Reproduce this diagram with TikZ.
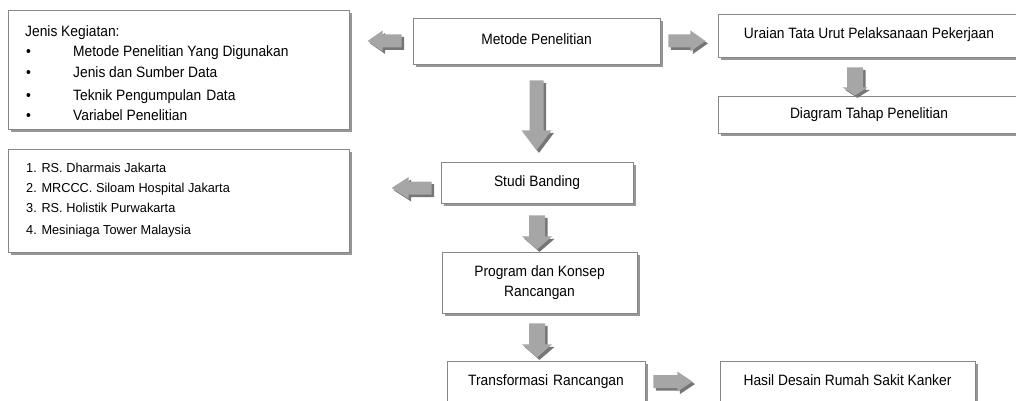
\documentclass[tikz,border=0pt]{standalone}
\usepackage{fontspec}
\setmainfont{Liberation Sans}[FakeStretch=0.92]
\newfontfamily\listfont{Liberation Sans}[FakeStretch=0.98]
\usetikzlibrary{calc,shadows}
\definecolor{boxline}{RGB}{135,135,135}
\definecolor{boxshadow}{RGB}{150,150,150}
\definecolor{arrfillc}{RGB}{166,166,166}
\definecolor{arrshadc}{RGB}{118,118,118}
\tikzset{
  box/.style={draw=boxline, line width=0.8pt, fill=white, inner sep=0pt,
    drop shadow={shadow xshift=3pt, shadow yshift=-3pt, fill=boxshadow, opacity=1},
    font=\fontsize{15}{20}\selectfont, align=center},
  oneline/.style={text height=10pt, text depth=3pt},
  arrfill/.style={fill=arrfillc},
  arrshadow/.style={fill=arrshadc},
  itemtxt/.style={anchor=base west, inner sep=0pt, font=\fontsize{15}{18}\selectfont},
  listtxt/.style={anchor=base west, inner sep=0pt, font=\listfont\fontsize{13}{16}\selectfont},
}
% block arrow outlines: #1 length, #2 half head width, #3 head length, #4 half shaft width
\newcommand\rpoly[4]{++(0,-#4) -- ++(#1-#3,0) -- ++(0,#4-#2) -- ++(#3,#2) -- ++(-#3,#2) -- ++(0,#4-#2) -- ++(#3-#1,0) -- cycle}
\newcommand\lpoly[4]{++(0,-#4) -- ++(#3-#1,0) -- ++(0,#4-#2) -- ++(-#3,#2) -- ++(#3,#2) -- ++(0,#4-#2) -- ++(#1-#3,0) -- cycle}
\newcommand\dpoly[4]{++(-#4,0) -- ++(0,#1-#3) -- ++(#4-#2,0) -- ++(#2,#3) -- ++(#2,-#3) -- ++(#4-#2,0) -- ++(0,#3-#1) -- cycle}
\newcommand\blockarrow[6]{%
  \fill[arrshadow] ($(#2)+(2.5,2.5)$) #1{#3}{#4}{#5}{#6};
  \fill[arrfill] (#2) #1{#3}{#4}{#5}{#6};}
\begin{document}
\begin{tikzpicture}[x=1pt,y=-1pt]
\useasboundingbox (0,0) rectangle (1016,401);
\clip (0,0) rectangle (1016,401);

% boxes
\node[box, minimum width=341, minimum height=119] (jenis) at (178.5,69.5) {};
\node[box, oneline, minimum width=247, minimum height=46] (metode) at (536.5,41) {Metode Penelitian};
\node[box, oneline, minimum width=302, minimum height=43] (uraian) at (869,35.5) {Uraian Tata Urut Pelaksanaan Pekerjaan};
\node[box, oneline, minimum width=302, minimum height=37] (diagram) at (869,114.5) {Diagram Tahap Penelitian};
\node[box, minimum width=341, minimum height=103] (list) at (178.5,200.5) {};
\node[box, oneline, minimum width=192, minimum height=41] (studi) at (537,182.5) {Studi Banding};
\node[box, minimum width=195, minimum height=61] (program) at (539.5,282.5) {Program dan Konsep\\Rancangan};
\node[box, oneline, minimum width=198, minimum height=42] (transf) at (546,382) {Transformasi\,\,Rancangan};
\node[box, oneline, minimum width=255, minimum height=42] (hasil) at (847.5,382) {Hasil Desain Rumah Sakit Kanker};

% texts of the left boxes
\node[itemtxt] (jk) at (25,37) {Jenis Kegiatan:};
\node[itemtxt] (b1) at (26,57) {•};
\node[itemtxt] (b2) at (26,78) {•};
\node[itemtxt] (b3) at (26,100) {•};
\node[itemtxt] (b4) at (26,121) {•};
\node[itemtxt] (i1) at (73,57) {Metode Penelitian Yang Digunakan};
\node[itemtxt] (i2) at (73,78) {Jenis dan Sumber Data};
\node[itemtxt] (i3) at (73,100) {Teknik Pengumpulan\,\,Data};
\node[itemtxt] (i4) at (73,121) {Variabel Penelitian};

\node[listtxt] (l1) at (26,172) {1. RS. Dharmais Jakarta};
\node[listtxt] (l2) at (26,192) {2. MRCCC. Siloam Hospital Jakarta};
\node[listtxt] (l3) at (26,212) {3. RS. Holistik Purwakarta};
\node[listtxt] (l4) at (26,234) {4. Mesiniaga Tower Malaysia};

% block arrows
\coordinate (a1) at ($(metode.west)+(-11,0)$);
\blockarrow\lpoly{a1}{34}{10.5}{15}{6.5}
\coordinate (a2) at ($(metode.east)+(8,0)$);
\blockarrow\rpoly{a2}{37}{10.5}{15}{6.5}
\coordinate (a3) at ($(metode.south)+(0,16)$);
\blockarrow\dpoly{a3}{70}{15}{20}{7}
\coordinate (a4) at ($(uraian.south)+(-14,10)$);
\blockarrow\dpoly{a4}{28}{12.5}{8}{8}
\coordinate (a5) at ($(studi.west)+(-9,5.5)$);
\blockarrow\lpoly{a5}{40}{11}{17}{6.5}
\coordinate (a6) at ($(studi.south)+(0,12)$);
\blockarrow\dpoly{a6}{34}{15}{13}{8}
\coordinate (a7) at ($(program.south)+(-2.5,10)$);
\blockarrow\dpoly{a7}{34}{15}{13}{8}
\coordinate (a8) at ($(transf.north east)+(8,21)$);
\blockarrow\rpoly{a8}{39}{10}{15}{6.5}
\end{tikzpicture}
\end{document}
